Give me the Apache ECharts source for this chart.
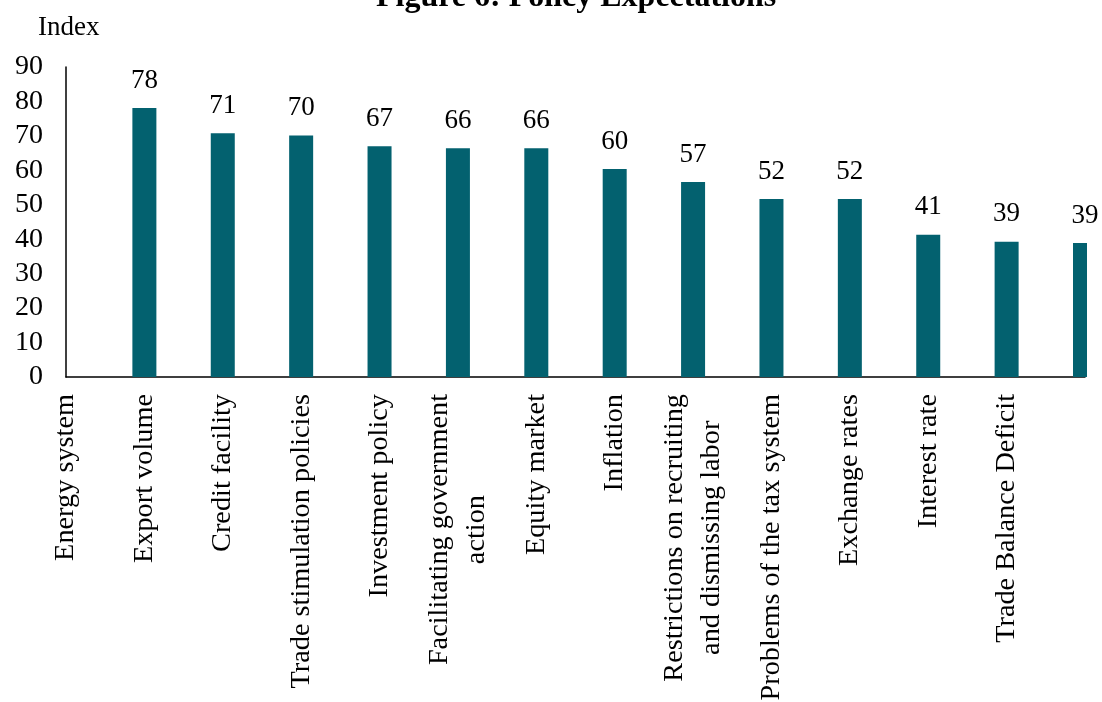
<!DOCTYPE html>
<html>
<head>
<meta charset="utf-8">
<script src="https://cdn.jsdelivr.net/npm/echarts@6/dist/echarts.min.js"></script>
<style>
  html, body { margin: 0; padding: 0; background: #fff; }
  #chart { width: 1102px; height: 702px; }
</style>
</head>
<body>
<div id="chart"></div>
<script>
const titleText = 'Figure 6: Policy Expectations';
const yAxisName = 'Index';
const categories = [
  'Energy system',
  'Export volume',
  'Credit facility',
  'Trade stimulation policies',
  'Investment policy',
  'Facilitating government\naction',
  'Equity market',
  'Inflation',
  'Restrictions on recruiting\nand dismissing labor',
  'Problems of the tax system',
  'Exchange rates',
  'Interest rate',
  'Trade Balance Deficit',
  ''
];
const values = [null, 78.1, 70.8, 70.1, 67.0, 66.4, 66.4, 60.4, 56.6, 51.7, 51.7, 41.3, 39.3, 38.9];
const yMin = 0, yMax = 90, yStep = 10;

const FONT = 'Liberation Serif';
const XFS = 28.3;
const BAR_COLOR = '#03616F';
const BAR_W = 24;

// measure text so multi-line labels are centred line by line while the block ends at the axis
const ctx = document.createElement('canvas').getContext('2d');
ctx.font = XFS + 'px "' + FONT + '"';
const xData = categories.map(c => {
  if (c.indexOf('\n') < 0) return c;
  const w = Math.max.apply(null, c.split('\n').map(s => ctx.measureText(s).width));
  return { value: c, textStyle: { align: 'center', padding: [0, w, 0, 0] } };
});

const barData = values.map((v, i) => [i, v]).filter(d => d[1] != null);

function renderBar(params, api) {
  const x = api.value(0), v = api.value(1);
  const top = api.coord([x, v]);
  const base = api.coord([x, 0]);
  const cs = params.coordSys;
  const rect = echarts.graphic.clipRectByRect(
    { x: top[0] - BAR_W / 2, y: top[1], width: BAR_W, height: base[1] - top[1] },
    { x: cs.x, y: cs.y, width: cs.width + 2, height: cs.height }
  );
  const children = [];
  if (rect) children.push({ type: 'rect', shape: rect, style: { fill: BAR_COLOR } });
  children.push({
    type: 'text',
    style: {
      text: String(Math.round(v)),
      x: top[0], y: top[1] - 14,
      align: 'center', verticalAlign: 'bottom',
      fill: '#000',
      font: '27px "' + FONT + '"'
    }
  });
  return { type: 'group', children };
}

const chart = echarts.init(document.getElementById('chart'));
chart.setOption({
  animation: false,
  backgroundColor: '#fff',
  title: {
    text: titleText,
    left: 371,
    top: -23,
    textStyle: { fontFamily: FONT, fontWeight: 'bold', fontSize: 32, color: '#000' }
  },
  grid: { left: 66, right: 17, top: 67, bottom: 325, containLabel: false, outerBoundsMode: 'none' },
  xAxis: {
    type: 'category',
    data: xData,
    boundaryGap: false,
    axisLine: { show: true, lineStyle: { color: '#000', width: 1.5 } },
    axisTick: { show: false },
    splitLine: { show: false },
    axisLabel: {
      interval: 0,
      rotate: 90,
      margin: 17,
      color: '#000',
      fontFamily: FONT,
      fontSize: XFS,
      lineHeight: 37
    }
  },
  yAxis: {
    type: 'value',
    min: yMin,
    max: yMax,
    interval: yStep,
    name: yAxisName,
    nameLocation: 'end',
    nameGap: 26,
    nameTextStyle: { fontFamily: FONT, fontSize: 27, color: '#000', align: 'left', padding: [0, 0, 0, -28] },
    axisLine: { show: true, lineStyle: { color: '#000', width: 1.5 } },
    axisTick: { show: false },
    splitLine: { show: false },
    axisLabel: { margin: 23, color: '#000', fontFamily: FONT, fontSize: 28 }
  },
  series: [{
    type: 'custom',
    renderItem: renderBar,
    data: barData,
    encode: { x: 0, y: 1 },
    clip: false
  }]
});
</script>
</body>
</html>
